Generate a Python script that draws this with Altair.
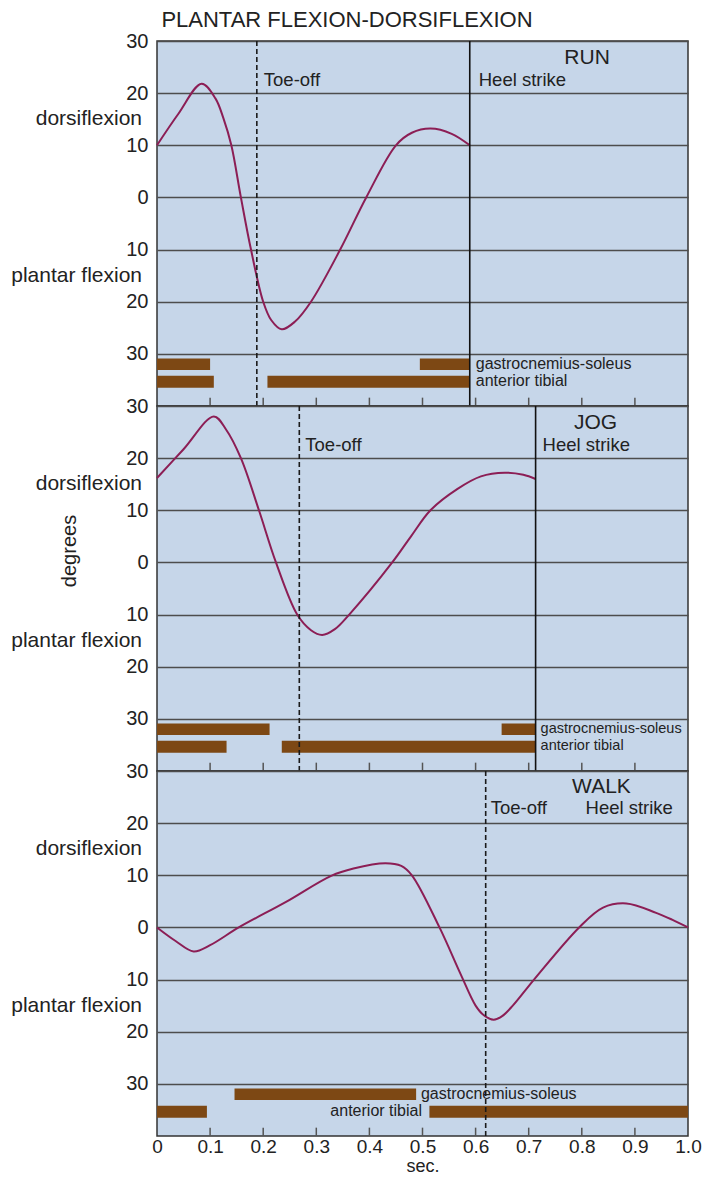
import altair as alt
import pandas as pd

# ---------------- data ----------------
run_t = [0.0, 0.04, 0.084, 0.11, 0.125, 0.14, 0.158, 0.177, 0.2, 0.215, 0.235, 0.26, 0.29, 0.345, 0.394, 0.45, 0.48, 0.515, 0.555, 0.589]
run_deg = [10, 16, 21.8, 19, 15.2, 10, 0, -10, -20, -23.5, -25.3, -23.8, -20, -10, 0, 10, 12.4, 13.2, 12.2, 10]

jog_t = [0.0, 0.05, 0.107, 0.13, 0.158, 0.192, 0.224, 0.264, 0.29, 0.311, 0.335, 0.362, 0.443, 0.479, 0.515, 0.566, 0.61, 0.655, 0.69, 0.713]
jog_deg = [16.2, 21.7, 28, 25.5, 20, 10, 0, -10, -13, -13.9, -12.8, -10, 0, 5.1, 10, 14.1, 16.5, 17.2, 16.8, 16]

walk_t = [0.0, 0.035, 0.069, 0.10, 0.154, 0.243, 0.328, 0.37, 0.43, 0.46, 0.48, 0.532, 0.572, 0.60, 0.615, 0.634, 0.65, 0.67, 0.71, 0.795, 0.84, 0.884, 0.94, 0.97, 1.0]
walk_deg = [0, -2.6, -4.6, -3.4, 0, 4.9, 9.9, 11.3, 12.3, 11.8, 10, 0, -9, -15.0, -16.8, -17.7, -17.0, -15.0, -10, 0, 3.8, 4.6, 2.8, 1.5, 0]

# muscle activity (start, end) in seconds
run_gastroc = [(0.0, 0.10), (0.495, 0.589)]
run_tibial = [(0.0, 0.107), (0.208, 0.589)]
jog_gastroc = [(0.0, 0.212), (0.649, 0.713)]
jog_tibial = [(0.0, 0.131), (0.235, 0.713)]
walk_gastroc = [(0.146, 0.488)]
walk_tibial = [(0.0, 0.094), (0.513, 1.0)]

# gait events (sec)
run_toe, run_heel = 0.188, 0.589
jog_toe, jog_heel = 0.268, 0.713
walk_toe = 0.619

x_ticks = [0.1, 0.2, 0.3, 0.4, 0.5, 0.6, 0.7, 0.8, 0.9]
x_labels = [0, 0.1, 0.2, 0.3, 0.4, 0.5, 0.6, 0.7, 0.8, 0.9, 1.0]
y_ticks = [30, 20, 10, 0, -10, -20, -30]

# ---------------- style ----------------
FONT = "Liberation Sans, Arial, Helvetica, sans-serif"
BG = "#c6d6e9"
LINE = "#8c1e55"
BAR = "#7d4814"
GRID = "#4d4d4d"
TXT = "#222222"
W, H = 531, 365
YDOM = [-40, 30]

yaxis = alt.Axis(values=y_ticks, labelExpr="abs(datum.value)", grid=True, gridColor=GRID,
                 gridWidth=1.4, domain=False, ticks=False, labelFontSize=20, labelFont=FONT,
                 labelColor=TXT, labelPadding=9, title=None)


def xenc(field, bottom):
    if bottom:
        ax = alt.Axis(values=x_labels, labelExpr="datum.value == 0 ? '0' : format(datum.value, '.1f')",
                      grid=False, domain=False, ticks=False, labelFontSize=19, labelFont=FONT,
                      labelColor=TXT, labelFlush=False, labelPadding=1, title="sec.",
                      titleFontSize=18, titleFont=FONT, titleFontWeight="normal", titleColor=TXT,
                      titlePadding=1)
    else:
        ax = None
    return alt.X(field, scale=alt.Scale(domain=[0, 1], nice=False, zero=False), axis=ax)


def yenc(field):
    return alt.Y(field, scale=alt.Scale(domain=YDOM, nice=False, zero=False), axis=yaxis)


def panel(t, deg, gastroc, tibial, toe, heel, texts, bottom=False, extra=None):
    curve = pd.DataFrame({"t": t, "deg": deg})
    bars = pd.DataFrame(
        [{"t0": a, "t1": b, "y0": -30.9, "y1": -33.1} for a, b in gastroc]
        + [{"t0": a, "t1": b, "y0": -34.2, "y1": -36.5} for a, b in tibial]
    )
    layers = []
    line = alt.Chart(curve).mark_line(color=LINE, strokeWidth=2, interpolate="catmull-rom").encode(
        x=xenc("t:Q", bottom), y=yenc("deg:Q"))
    layers.append(line)
    layers.append(alt.Chart(bars).mark_rect(color=BAR).encode(
        x=xenc("t0:Q", bottom), x2="t1:Q", y=yenc("y0:Q"), y2="y1:Q"))
    ticks = pd.DataFrame({"t": x_ticks, "y0": -40, "y1": -38.4})
    layers.append(alt.Chart(ticks).mark_rule(color="#555555", strokeWidth=1.5).encode(
        x=xenc("t:Q", bottom), y=yenc("y0:Q"), y2="y1:Q"))
    ev = pd.DataFrame({"t": [toe], "y0": -40, "y1": 30})
    layers.append(alt.Chart(ev).mark_rule(color="#1a1a1a", strokeWidth=1.6, strokeDash=[5, 3]).encode(
        x=xenc("t:Q", bottom), y=yenc("y0:Q"), y2="y1:Q"))
    if heel is not None:
        hv = pd.DataFrame({"t": [heel], "y0": -40, "y1": 30})
        layers.append(alt.Chart(hv).mark_rule(color="#111111", strokeWidth=1.6).encode(
            x=xenc("t:Q", bottom), y=yenc("y0:Q"), y2="y1:Q"))
    # in-plot text annotations
    for (label, tx, ty, size, align, dx) in texts:
        df = pd.DataFrame({"t": [tx], "deg": [ty], "label": [label]})
        layers.append(alt.Chart(df).mark_text(align=align, baseline="middle", fontSize=size, font=FONT,
                                              color=TXT, dx=dx).encode(
            x=xenc("t:Q", bottom), y=yenc("deg:Q"), text="label:N"))
    # side labels
    side = pd.DataFrame({"deg": [15, -15], "label": ["dorsiflexion", "plantar flexion"]})
    layers.append(alt.Chart(side).mark_text(align="right", baseline="middle", fontSize=21, font=FONT,
                                            color=TXT).encode(
        x=alt.value(-15), y=yenc("deg:Q"), text="label:N"))
    if extra is not None:
        layers.extend(extra)
    return alt.layer(*layers).properties(width=W, height=H)


run_texts = [
    ("RUN", 0.81, 26.8, 21, "center", 0),
    ("Toe-off", run_toe, 22.6, 18.5, "left", 7),
    ("Heel strike", run_heel, 22.6, 18.5, "left", 9),
    ("gastrocnemius-soleus", run_heel, -32.0, 16, "left", 6),
    ("anterior tibial", run_heel, -35.3, 16, "left", 6),
]
jog_texts = [
    ("JOG", 0.826, 26.8, 21, "center", 0),
    ("Toe-off", jog_toe, 22.6, 18.5, "left", 6),
    ("Heel strike", jog_heel, 22.6, 18.5, "left", 7),
    ("gastrocnemius-soleus", jog_heel, -32.0, 14.5, "left", 5),
    ("anterior tibial", jog_heel, -35.3, 14.5, "left", 5),
]
walk_texts = [
    ("WALK", 0.837, 27.0, 21, "center", 0),
    ("Toe-off", walk_toe, 23.0, 18.5, "left", 5),
    ("Heel strike", 0.807, 23.0, 18.5, "left", 0),
    ("gastrocnemius-soleus", 0.497, -32.0, 16, "left", 0),
    ("anterior tibial", 0.499, -35.3, 16, "right", 0),
]

title_layer = alt.Chart(pd.DataFrame({"label": ["PLANTAR  FLEXION-DORSIFLEXION"]})).mark_text(
    align="center", baseline="middle", fontSize=22, font=FONT, color=TXT).encode(
    x=alt.value(190), y=alt.value(-21), text="label:N")

degrees_layer = alt.Chart(pd.DataFrame({"label": ["degrees"]})).mark_text(
    align="center", baseline="middle", fontSize=20, font=FONT, color=TXT, angle=270).encode(
    x=alt.value(-87), y=alt.value(145), text="label:N")

run = panel(run_t, run_deg, run_gastroc, run_tibial, run_toe, run_heel, run_texts, extra=[title_layer])
jog = panel(jog_t, jog_deg, jog_gastroc, jog_tibial, jog_toe, jog_heel, jog_texts, extra=[degrees_layer])
walk = panel(walk_t, walk_deg, walk_gastroc, walk_tibial, walk_toe, None, walk_texts, bottom=True)

chart = alt.vconcat(run, jog, walk, spacing=0, bounds="flush").properties(
    padding={"left": 2, "top": 0, "right": 0, "bottom": 0},
    background="white",
).configure_view(fill=BG, stroke="#333333", strokeWidth=1.5)

chart.save("out.html", embed_options={"renderer": "svg", "actions": False})
